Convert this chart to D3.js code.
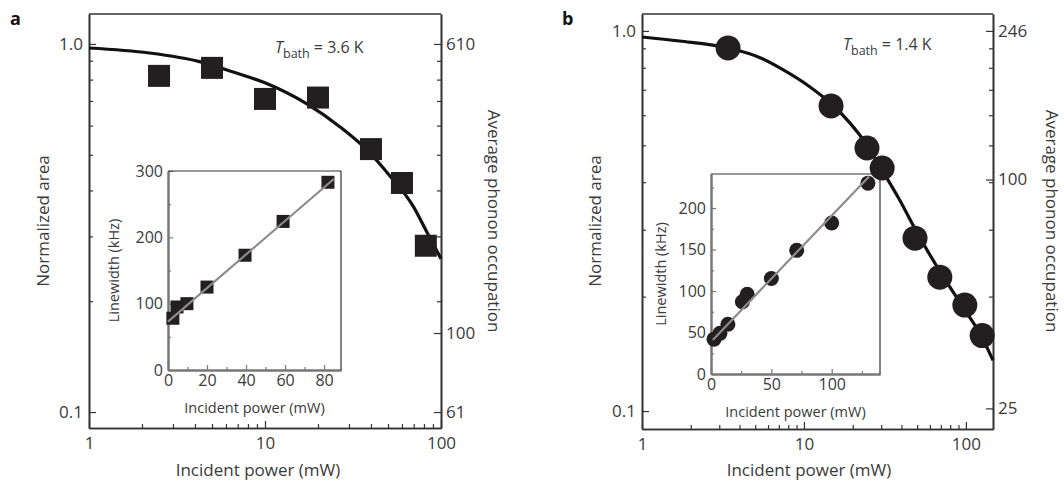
<!DOCTYPE html>
<html>
<head>
<meta charset="utf-8">
<script src="https://cdn.jsdelivr.net/npm/d3@7"></script>
<style>
	body { margin: 0; background: #fff; }
	svg text { font-family: "Open Sans", Lato, sans-serif; font-weight: 400; fill: #3a3a3a; }
	.axis path, .axis line { stroke: #333; }
	.axis text { font-size: 17px; }
	.inset .axis path, .inset .axis line { stroke: #777; }
	.inset .axis text { font-size: 16px; }
</style>
</head>
<body>
<svg id="chart" width="1064" height="483"></svg>
<script>
// ---- panel a : main plot (normalized area vs incident power) ----
const powerA = [2.5, 5, 10, 20, 40, 60, 82];
const areaA = [0.819, 0.861, 0.709, 0.715, 0.518, 0.419, 0.283];
const fitPowerA = [1, 2.2, 4.3, 6.6, 10, 17.3, 26.7, 38, 51.3, 69.3, 83.2, 100];
const fitAreaA = [0.975, 0.945, 0.894, 0.839, 0.784, 0.687, 0.595, 0.515, 0.438, 0.363, 0.308, 0.261];
// panel a : inset (linewidth vs incident power)
const insetPowerA = [2.5, 4.6, 9.7, 20, 39.5, 59, 82];
const insetWidthA = [78, 95, 100, 125, 173, 224, 283];
const insetFitPowerA = [0, 85];
const insetFitWidthA = [73, 288];

// ---- panel b ----
const powerB = [3.4, 14.7, 24.5, 30.4, 48.5, 69, 98.5, 126];
const areaB = [0.902, 0.635, 0.492, 0.436, 0.285, 0.225, 0.19, 0.158];
const fitPowerB = [1, 1.7, 3.4, 5.4, 7.1, 10.9, 14.5, 19.2, 24.5, 30.3, 39, 49, 70, 99, 126, 147];
const fitAreaB = [0.964, 0.941, 0.902, 0.849, 0.799, 0.712, 0.647, 0.573, 0.501, 0.431, 0.359, 0.299, 0.231, 0.184, 0.156, 0.136];
const insetPowerB = [2.5, 7.4, 14, 26, 30, 50, 71, 100, 130];
const insetWidthB = [42, 49, 60, 87, 96, 115, 149, 182, 230];
const insetFitPowerB = [1.5, 131];
const insetFitWidthB = [41, 238];

// ---- tick labels ----
const mainXTicks = [1, 10, 100];
const mainXMinor = [2, 3, 4, 5, 6, 7, 8, 9, 20, 30, 40, 50, 60, 70, 80, 90];
const mainYTicks = [1, 0.1];
const mainYMinor = [0.9, 0.8, 0.7, 0.6, 0.5, 0.4, 0.3, 0.2];
const occTicksA = [610, 100, 61];
const occTicksB = [246, 100, 25];
const insetXTicksA = [0, 20, 40, 60, 80];
const insetXMinorA = [10, 30, 50, 70];
const insetYTicksA = [0, 100, 200, 300];
const insetYMinorA = [50, 150, 250];
const insetXTicksB = [0, 50, 100];
const insetXMinorB = [25, 75, 125];
const insetYTicksB = [0, 50, 100, 150, 200];
const insetYMinorB = [25, 75, 125, 175, 225];

const markColor = "#231f20";
const svg = d3.select("#chart");

function drawPanel(p) {
	const g = svg.append("g");
	const x = d3.scaleLog().domain(p.xDomain).range([p.left, p.right]);
	const y = d3.scaleLog().domain(p.yDomain).range([p.bottom, p.top]);
	const yR = d3
		.scaleLog()
		.domain(p.yDomain.map((d) => d * p.occ))
		.range([p.bottom, p.top]);

	// minor ticks
	g.append("g")
		.attr("class", "axis")
		.attr("transform", `translate(0,${p.bottom})`)
		.call(d3.axisBottom(x).tickValues(mainXMinor).tickSize(-4).tickSizeOuter(0).tickFormat(""));
	g.append("g")
		.attr("class", "axis")
		.attr("transform", `translate(${p.left},0)`)
		.call(d3.axisLeft(y).tickValues(mainYMinor).tickSize(-4).tickSizeOuter(0).tickFormat(""));
	g.append("g")
		.attr("class", "axis")
		.attr("transform", `translate(${p.right},0)`)
		.call(d3.axisRight(yR).tickValues(mainYMinor.map((d) => d * p.occ)).tickSize(-4).tickSizeOuter(0).tickFormat(""));

	// major axes
	g.append("g")
		.attr("class", "axis")
		.attr("transform", `translate(0,${p.bottom})`)
		.call(d3.axisBottom(x).tickValues(mainXTicks).tickSize(-7).tickSizeOuter(0).tickPadding(9).tickFormat(d3.format("d")));
	g.append("g")
		.attr("class", "axis")
		.attr("transform", `translate(${p.left},0)`)
		.call(d3.axisLeft(y).tickValues(mainYTicks).tickSize(-7).tickSizeOuter(0).tickPadding(6).tickFormat(d3.format(".1f")));
	g.append("g")
		.attr("class", "axis")
		.attr("transform", `translate(${p.right},0)`)
		.call(d3.axisRight(yR).tickValues(p.occTicks).tickSize(-7).tickSizeOuter(0).tickPadding(5).tickFormat(d3.format("d")));

	g.selectAll(".axis path").style("stroke-width", 1.6);
	g.selectAll(".axis line").style("stroke-width", 1.2);

	// top frame
	g.append("line")
		.attr("x1", p.left)
		.attr("x2", p.right)
		.attr("y1", p.top)
		.attr("y2", p.top)
		.style("stroke", "#333")
		.style("stroke-width", 1.6);

	// titles
	g.append("text")
		.attr("x", p.xTitleX)
		.attr("y", 476)
		.attr("text-anchor", "middle")
		.style("font-size", "17px")
		.text("Incident power (mW)");
	g.append("text")
		.attr("transform", `translate(${p.yTitleX},221) rotate(-90)`)
		.attr("text-anchor", "middle")
		.attr("dy", "0.35em")
		.style("font-size", "17px")
		.text("Normalized area");
	g.append("text")
		.attr("transform", `translate(${p.occTitleX},221) rotate(90)`)
		.attr("text-anchor", "middle")
		.attr("dy", "0.35em")
		.style("font-size", "17px")
		.text("Average phonon occupation");
	g.append("text")
		.attr("x", p.letterX)
		.attr("y", 25)
		.style("font-size", "18px")
		.style("font-weight", 700)
		.style("fill", "#111")
		.text(p.letter);

	const tb = g
		.append("text")
		.attr("x", p.tbX)
		.attr("y", p.tbY)
		.style("font-size", "16px");
	tb.append("tspan").style("font-style", "italic").text("T");
	tb.append("tspan").attr("dy", 5).style("font-size", "12.5px").text("bath");
	tb.append("tspan").attr("dy", -5).text(` = ${p.tbath}`);

	// inset
	const ig = g.append("g").attr("class", "inset");
	const ix = d3.scaleLinear().domain(p.inset.xDomain).range([p.inset.left, p.inset.right]);
	const iy = d3.scaleLinear().domain(p.inset.yDomain).range([p.inset.bottom, p.inset.top]);

	ig.append("g")
		.attr("class", "axis")
		.attr("transform", `translate(0,${p.inset.bottom})`)
		.call(d3.axisBottom(ix).tickValues(p.inset.xMinor).tickSize(-3).tickSizeOuter(0).tickFormat(""));
	ig.append("g")
		.attr("class", "axis")
		.attr("transform", `translate(${p.inset.left},0)`)
		.call(d3.axisLeft(iy).tickValues(p.inset.yMinor).tickSize(-3).tickSizeOuter(0).tickFormat(""));
	ig.append("g")
		.attr("class", "axis")
		.attr("transform", `translate(0,${p.inset.bottom})`)
		.call(d3.axisBottom(ix).tickValues(p.inset.xTicks).tickSize(-5).tickSizeOuter(0).tickPadding(5));
	ig.append("g")
		.attr("class", "axis")
		.attr("transform", `translate(${p.inset.left},0)`)
		.call(d3.axisLeft(iy).tickValues(p.inset.yTicks).tickSize(-5).tickSizeOuter(0).tickPadding(5));
	ig.selectAll(".axis path").style("stroke-width", 2);
	ig.selectAll(".axis line").style("stroke-width", 1.2);

	// inset top / right frame
	ig.append("path")
		.attr("d", `M${p.inset.left},${p.inset.top}H${p.inset.right}V${p.inset.bottom}`)
		.style("fill", "none")
		.style("stroke", "#333")
		.style("stroke-width", 1.2);

	ig.append("text")
		.attr("x", (p.inset.left + p.inset.right) / 2)
		.attr("y", p.inset.bottom + 43)
		.attr("text-anchor", "middle")
		.style("font-size", "14.5px")
		.text("Incident power (mW)");
	ig.append("text")
		.attr("transform", `translate(${p.inset.yTitleX},${(p.inset.top + p.inset.bottom) / 2}) rotate(-90)`)
		.attr("text-anchor", "middle")
		.attr("dy", "0.35em")
		.style("font-size", "14.5px")
		.text("Linewidth (kHz)");

	const insetPts = p.inset.px.map((d, i) => ({ p: d, w: p.inset.w[i] }));
	if (p.marker === "square") {
		ig.selectAll("rect.pt")
			.data(insetPts)
			.enter()
			.append("rect")
			.attr("class", "pt")
			.attr("x", (d) => ix(d.p) - 6.5)
			.attr("y", (d) => iy(d.w) - 6.5)
			.attr("width", 13)
			.attr("height", 13)
			.style("fill", markColor);
	} else {
		ig.selectAll("circle.pt")
			.data(insetPts)
			.enter()
			.append("circle")
			.attr("class", "pt")
			.attr("cx", (d) => ix(d.p))
			.attr("cy", (d) => iy(d.w))
			.attr("r", 7.5)
			.style("fill", markColor);
	}

	const insetFit = p.inset.fitP.map((d, i) => [ix(d), iy(p.inset.fitW[i])]);
	ig.append("path")
		.attr("d", d3.line()(insetFit))
		.style("fill", "none")
		.style("stroke", "#8c8c8c")
		.style("stroke-width", 2.2);

	// main fit curve
	const fitPts = p.fitP.map((d, i) => [x(d), y(p.fitA[i])]);
	g.append("path")
		.attr("d", d3.line().curve(d3.curveMonotoneX)(fitPts))
		.style("fill", "none")
		.style("stroke", "#111")
		.style("stroke-width", 3.2);

	// main markers
	const pts = p.px.map((d, i) => ({ p: d, a: p.area[i] }));
	if (p.marker === "square") {
		g.selectAll("rect.main")
			.data(pts)
			.enter()
			.append("rect")
			.attr("class", "main")
			.attr("x", (d) => x(d.p) - 11)
			.attr("y", (d) => y(d.a) - 11)
			.attr("width", 22)
			.attr("height", 22)
			.style("fill", markColor);
	} else {
		g.selectAll("circle.main")
			.data(pts)
			.enter()
			.append("circle")
			.attr("class", "main")
			.attr("cx", (d) => x(d.p))
			.attr("cy", (d) => y(d.a))
			.attr("r", 12.5)
			.style("fill", markColor);
	}
}

drawPanel({
	letter: "a",
	letterX: 10,
	left: 89,
	right: 441,
	top: 14,
	bottom: 428,
	xDomain: [1, 100],
	yDomain: [0.0905, 1.206],
	occ: 610,
	occTicks: occTicksA,
	xTitleX: 258,
	yTitleX: 43,
	occTitleX: 494,
	tbX: 275,
	tbY: 53,
	tbath: "3.6 K",
	marker: "square",
	px: powerA,
	area: areaA,
	fitP: fitPowerA,
	fitA: fitAreaA,
	inset: {
		left: 168,
		right: 341,
		top: 171,
		bottom: 370,
		xDomain: [0, 88.7],
		yDomain: [0, 300],
		xTicks: insetXTicksA,
		xMinor: insetXMinorA,
		yTicks: insetYTicksA,
		yMinor: insetYMinorA,
		yTitleX: 114,
		px: insetPowerA,
		w: insetWidthA,
		fitP: insetFitPowerA,
		fitW: insetFitWidthA,
	},
});

drawPanel({
	letter: "b",
	letterX: 562,
	left: 642,
	right: 993,
	top: 14,
	bottom: 429,
	xDomain: [1, 147],
	yDomain: [0.0897, 1.108],
	occ: 246,
	occTicks: occTicksB,
	xTitleX: 809,
	yTitleX: 595,
	occTitleX: 1052,
	tbX: 843,
	tbY: 50,
	tbath: "1.4 K",
	marker: "circle",
	px: powerB,
	area: areaB,
	fitP: fitPowerB,
	fitA: fitAreaB,
	inset: {
		left: 711,
		right: 880,
		top: 174,
		bottom: 374,
		xDomain: [0, 140],
		yDomain: [0, 241],
		xTicks: insetXTicksB,
		xMinor: insetXMinorB,
		yTicks: insetYTicksB,
		yMinor: insetYMinorB,
		yTitleX: 661,
		px: insetPowerB,
		w: insetWidthB,
		fitP: insetFitPowerB,
		fitW: insetFitWidthB,
	},
});
</script>
</body>
</html>
